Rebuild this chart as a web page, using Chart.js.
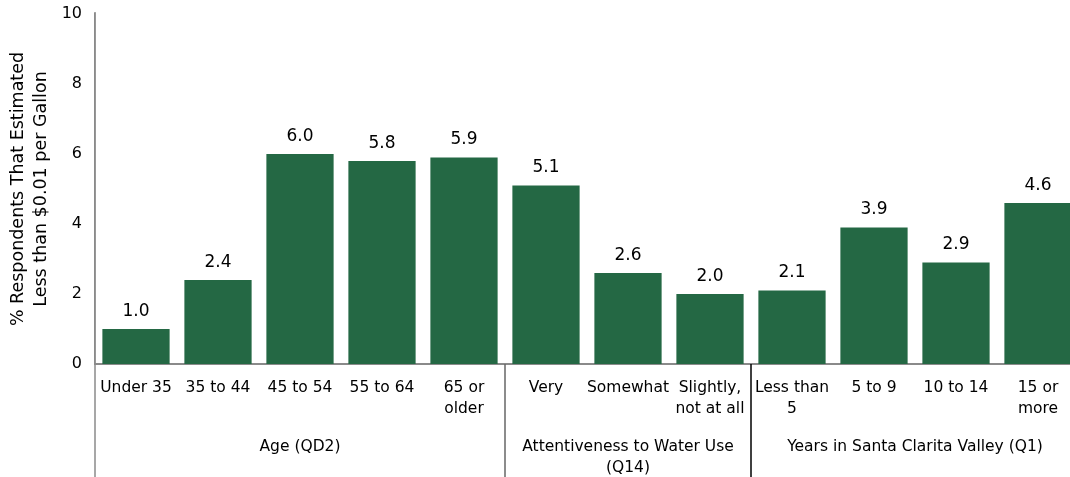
<!DOCTYPE html>
<html>
<head>
<meta charset="utf-8">
<script src="https://cdn.jsdelivr.net/npm/chart.js@4.4.1/dist/chart.umd.min.js"></script>
<style>
  html, body { margin: 0; padding: 0; background: #fff; overflow: hidden; }
  #wrap { width: 1090px; height: 477px; }
</style>
</head>
<body>
<div id="wrap"><canvas id="chart" width="1090" height="477"></canvas></div>
<script>
// Share estimating < $0.01/gallon, by respondent segment.
const categories = [
    'Under 35', '35 to 44', '45 to 54', '55 to 64', ['65 or', 'older'],
    'Very', 'Somewhat', ['Slightly,', 'not at all'],
    ['Less than', '5'], '5 to 9', '10 to 14', ['15 or', 'more'],
];
const values = [1.0, 2.4, 6.0, 5.8, 5.9, 5.1, 2.6, 2.0, 2.1, 3.9, 2.9, 4.6];
const groupLabels = ['Age (QD2)', ['Attentiveness to Water Use', '(Q14)'], 'Years in Santa Clarita Valley (Q1)'];
const groupSizes = [5, 3, 4];
const yTicks = [0, 2, 4, 6, 8, 10];
const yTitle = ['% Respondents That Estimated', 'Less than $0.01 per Gallon'];

const FONT = 'DejaVu Sans';
const BAR = '#246844';
const AXIS = '#8a8a8a';

// value labels above bars, group labels, separators, axis extension
const extras = {
    id: 'extras',
    afterDatasetsDraw(chart) {
        const ctx = chart.ctx;
        const meta = chart.getDatasetMeta(0);
        ctx.save();
        ctx.fillStyle = '#000';
        ctx.font = `17px "${FONT}"`;
        ctx.textAlign = 'center';
        ctx.textBaseline = 'bottom';
        meta.data.forEach((bar, i) => {
            ctx.fillText(values[i].toFixed(1), bar.x, bar.y - 9);
        });
        ctx.restore();
    },
    afterDraw(chart) {
        const ctx = chart.ctx;
        const x = chart.scales.x;
        const area = chart.chartArea;
        const bottom = chart.height;
        ctx.save();
        // y axis runs up a touch and down through the label area
        ctx.strokeStyle = AXIS;
        ctx.lineWidth = 1.5;
        ctx.beginPath();
        ctx.moveTo(area.left, area.top - 2);
        ctx.lineTo(area.left, bottom);
        ctx.stroke();

        ctx.font = `15.5px "${FONT}"`;
        ctx.textAlign = 'center';
        ctx.textBaseline = 'middle';
        ctx.fillStyle = '#000';
        let start = 0;
        groupSizes.forEach((n, g) => {
            const step = x.getPixelForValue(1) - x.getPixelForValue(0);
            const left = x.getPixelForValue(start) - step / 2;
            const right = x.getPixelForValue(start + n - 1) + step / 2;
            const lines = [].concat(groupLabels[g]);
            lines.forEach((t, k) => ctx.fillText(t, (left + right) / 2, 447 + k * 21));
            if (g < groupSizes.length - 1) {
                ctx.strokeStyle = g === 0 ? '#666' : '#000';
                ctx.lineWidth = 1.5;
                ctx.beginPath();
                ctx.moveTo(right, area.bottom);
                ctx.lineTo(right, bottom);
                ctx.stroke();
            }
            start += n;
        });
        ctx.restore();
    },
};

new Chart(document.getElementById('chart').getContext('2d'), {
    type: 'bar',
    data: {
        labels: categories,
        datasets: [{
            data: values,
            backgroundColor: BAR,
            borderWidth: 0,
            categoryPercentage: 1,
            barPercentage: 0.82,
        }],
    },
    options: {
        responsive: false,
        animation: false,
        layout: { padding: { top: 14, right: 11, left: 0, bottom: 0 } },
        plugins: { legend: { display: false }, tooltip: { enabled: false } },
        scales: {
            x: {
                grid: { display: false, drawTicks: false },
                border: { display: true, color: AXIS, width: 2 },
                ticks: {
                    color: '#000',
                    autoSkip: false,
                    maxRotation: 0,
                    minRotation: 0,
                    padding: 14,
                    font: { family: FONT, size: 15.5, lineHeight: 1.35 },
                },
                afterFit(scale) {
                    scale.height = 113;
                    scale.paddingLeft = 0;
                    scale.paddingRight = 0;
                },
            },
            y: {
                min: 0,
                max: 10,
                afterBuildTicks(scale) { scale.ticks = yTicks.map((v) => ({ value: v })); },
                grid: { display: false, drawTicks: false },
                border: { display: true, color: AXIS, width: 1.5 },
                ticks: {
                    color: '#000',
                    padding: 13,
                    font: { family: FONT, size: 16 },
                },
                title: {
                    display: true,
                    text: yTitle,
                    color: '#000',
                    padding: { top: 7, bottom: 0 },
                    font: { family: FONT, size: 17.5, lineHeight: 1.33 },
                },
                afterFit(scale) {
                    scale.width = 95;
                    scale.paddingTop = 0;
                    scale.paddingBottom = 0;
                },
            },
        },
    },
    plugins: [extras],
});
</script>
</body>
</html>
